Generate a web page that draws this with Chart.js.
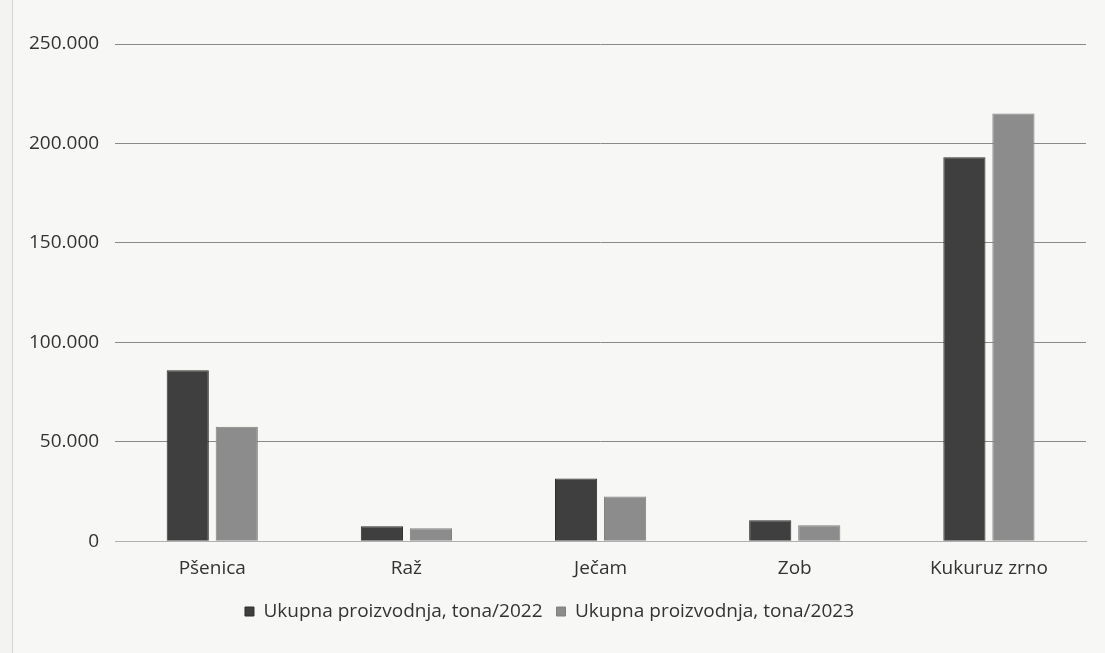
<!DOCTYPE html>
<html>
<head>
<meta charset="utf-8">
<script src="https://cdn.jsdelivr.net/npm/chart.js@4"></script>
<style>
  html, body { margin: 0; padding: 0; background: #f3f3f1; }
  #wrap { position: absolute; left: 12px; top: 0; width: 1093px; height: 653px; background: #f7f7f5; border-left: 1px solid #d5d5d5; }
</style>
</head>
<body>
<div id="wrap"><canvas id="chart"></canvas></div>
<script>
// Kategorije i vrijednosti (tona)
const categories = ['Pšenica', 'Raž', 'Ječam', 'Zob', 'Kukuruz zrno'];
const prod2022 = [86000, 7500, 31500, 10500, 193000];
const prod2023 = [57500, 6500, 22500, 8000, 215000];
const seriesNames = ['Ukupna proizvodnja, tona/2022', 'Ukupna proizvodnja, tona/2023'];

const fmt = v => v.toLocaleString('de-DE');

const ctx = document.getElementById('chart').getContext('2d');
new Chart(ctx, {
    type: 'bar',
    data: {
        labels: categories,
        datasets: [
            {
                label: seriesNames[0],
                data: prod2022,
                backgroundColor: '#3f3f3f',
                borderColor: '#2e2e2e',
                borderWidth: 1,
                categoryPercentage: 0.505,
                barPercentage: 0.86
            },
            {
                label: seriesNames[1],
                data: prod2023,
                backgroundColor: '#8c8c8c',
                borderColor: '#808080',
                borderWidth: 1,
                categoryPercentage: 0.505,
                barPercentage: 0.86
            }
        ]
    },
    options: {
        responsive: true,
        maintainAspectRatio: false,
        animation: false,
        layout: { padding: { left: 0, right: 20, top: 44, bottom: 22 } },
        plugins: {
            legend: {
                position: 'bottom',
                labels: {
                    boxWidth: 9,
                    boxHeight: 9,
                    padding: 14,
                    color: '#333',
                    font: { family: 'Open Sans', size: 19 }
                }
            },
            tooltip: { enabled: false }
        },
        scales: {
            x: {
                grid: { display: false },
                border: { color: '#b0b0b0' },
                ticks: { color: '#333', padding: 8, font: { family: 'Open Sans', size: 19 } }
            },
            y: {
                min: 0,
                max: 250000,
                ticks: {
                    stepSize: 50000,
                    padding: 16,
                    color: '#333',
                    font: { family: 'Open Sans', size: 19 },
                    callback: v => fmt(v)
                },
                grid: { color: '#8a8a8a', lineWidth: 1, drawTicks: false },
                border: { display: false }
            }
        }
    }
});
</script>
</body>
</html>
